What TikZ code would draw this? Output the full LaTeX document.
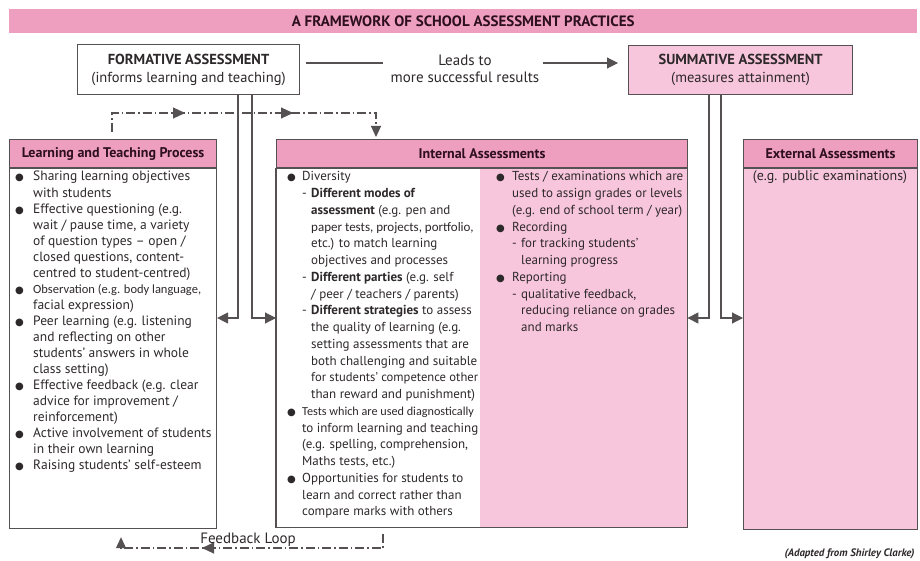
\documentclass[tikz,border=0pt]{standalone}
\usepackage{fontspec}
\setmainfont{PT Sans}
\newfontfamily\narrowfont{Carlito}
\newfontfamily\symfont{DejaVu Sans}
\usetikzlibrary{arrows.meta,decorations.markings}

\definecolor{framepink}{RGB}{238,158,190}
\definecolor{softpink}{RGB}{248,198,220}
\definecolor{edgegray}{RGB}{85,80,82}
\definecolor{inkgray}{RGB}{45,40,42}
\definecolor{headink}{RGB}{45,15,30}

% list bullet
\newcommand{\bul}{{\fontsize{10}{8}\selectfont\symfont ●}}

\begin{document}
\begin{tikzpicture}[x=1pt,y=-1pt,font=\fontsize{13}{16}\selectfont,text=inkgray]

\tikzstyle{box}=[draw=edgegray,line width=1.1pt];
\tikzstyle{wire}=[draw=edgegray,line width=1.1pt];
\tikzstyle{tip}=[-{Triangle[length=11pt,width=11pt]}];
\tikzstyle{loop}=[wire,dash pattern=on 9pt off 3pt on 1.5pt off 3pt];
\tikzstyle{head}=[box,fill=framepink,anchor=north west,minimum height=28pt,inner sep=0pt,
  text=headink,font=\fontsize{14}{15}\selectfont\bfseries];
\tikzstyle{body}=[anchor=north west,inner sep=0pt];
\tikzstyle{list}=[anchor=base west,inner sep=0pt,align=left];

\useasboundingbox (0,0) rectangle (920,561);

% title banner
\node[fill=framepink,anchor=north west,minimum width=908pt,minimum height=24pt,inner sep=0pt,
  text=headink,font=\fontsize{15}{16}\selectfont\bfseries] (title) at (9,9)
  {A FRAMEWORK OF SCHOOL ASSESSMENT PRACTICES};

% top row
\node[box,fill=white,anchor=north west,minimum width=222pt,minimum height=50pt,inner sep=0pt,
  align=center,font=\fontsize{14.5}{18}\selectfont] (formative) at (77,44)
  {\textbf{FORMATIVE ASSESSMENT}\\(informs learning and teaching)};
\node[box,fill=softpink,anchor=north west,minimum width=224pt,minimum height=49pt,inner sep=0pt,
  align=center,font=\fontsize{14.5}{18}\selectfont] (summative) at (628,45)
  {\textbf{SUMMATIVE ASSESSMENT}\\(measures attainment)};
\node[align=center,font=\fontsize{15}{17}\selectfont] (leads) at (465,68.5)
  {Leads to\\more successful results};

\coordinate (leadsy) at (0,63);
\draw[wire,shorten <=6pt,shorten >=4pt] (formative.east |- leadsy) -- (leads.west |- leadsy);
\draw[wire,tip,shorten >=10pt] (leads.east |- leadsy) -- (summative.west |- leadsy);

% three columns
\node[head,minimum width=207pt] (ltphead) at (9,139) {Learning and Teaching Process};
\node[box,body,minimum width=207pt,minimum height=360pt] (ltp) at (ltphead.south west) {};

\node[head,minimum width=411pt] (iahead) at (276,139) {Internal Assessments};
\node[body,minimum width=411pt,minimum height=359pt] (ia) at (iahead.south west) {};
\fill[softpink] ([xshift=204pt]ia.north west) rectangle (ia.south east);
\draw[box] (ia.north west) rectangle (ia.south east);

\node[head,minimum width=174pt] (exthead) at (743,139) {External Assessments};
\node[box,body,fill=softpink,minimum width=174pt,minimum height=361pt] (ext) at (exthead.south west) {};

% double links down from the top row
\draw[wire,tip] (238,0 |- formative.south) |- (ltp.east |- 0,318);
\draw[wire,tip] (252,0 |- formative.south) |- (ia.west |- 0,318);
\draw[wire,tip] (709,0 |- summative.south) |- (ia.east |- 0,318);
\draw[wire,tip] (721,0 |- summative.south) |- (ext.west |- 0,318);

% feedback loops
\coordinate (fbstart) at (112,132);
\coordinate (fbturn) at (376,113);
\draw[loop,-{Triangle[length=11pt,width=10pt]},shorten >=2pt,
  decoration={markings,
    mark=at position 92pt with {\arrow{Triangle[length=12pt,width=11pt]}},
    mark=at position 200pt with {\arrow{Triangle[length=12pt,width=11pt]}}},
  postaction={decorate}] (fbstart) |- (fbturn) -- (iahead.north -| fbturn);

\coordinate (fbfoot) at (383,534);
\coordinate (fbback) at (121,548);
\draw[loop,-{Triangle[length=11pt,width=10pt]},shorten >=8pt,
  decoration={markings,
    mark=at position 195pt with {\arrow{Triangle[length=12pt,width=11pt]}}},
  postaction={decorate}] (fbfoot) |- (fbback) -- (fbback |- ltp.south);
\node[font=\fontsize{15}{16}\selectfont] (fblabel) at (248,540) {Feedback Loop};

% column texts
\node[list,font=\fontsize{13.5}{16.05}\selectfont] (ltptext) at (15,181) {%
\begin{tabular}[t]{@{}p{18pt}@{}l@{}}
\bul & Sharing learning objectives\\
     & with students\\
\bul & Effective questioning (e.g.\\
     & wait / pause time, a variety\\
     & of question types – open /\\
     & closed questions, content-\\
     & centred to student-centred)\\
\bul & {\narrowfont\fontsize{12.5}{16}\selectfont Observation (e.g. body language,}\\
     & facial expression)\\
\bul & Peer learning (e.g. listening\\
     & and reflecting on other\\
     & students' answers in whole\\
     & class setting)\\
\bul & Effective feedback (e.g. clear\\
     & advice for improvement /\\
     & reinforcement)\\
\bul & Active involvement of students\\
     & in their own learning\\
\bul & Raising students' self-esteem
\end{tabular}};

\node[list,font=\fontsize{13}{16.75}\selectfont] (iatext) at (287,181) {%
\begin{tabular}[t]{@{}p{15pt}@{}p{9pt}@{}l@{}}
\bul & \multicolumn{2}{@{}l@{}}{Diversity}\\
     & - & \textbf{Different modes of}\\
     &   & \textbf{assessment} (e.g. pen and\\
     &   & {\narrowfont\fontsize{13}{16}\selectfont paper tests, projects, portfolio,}\\
     &   & etc.) to match learning\\
     &   & objectives and processes\\
     & - & \textbf{Different parties} (e.g. self\\
     &   & / peer / teachers / parents)\\
     & - & \textbf{Different strategies} to assess\\
     &   & the quality of learning (e.g.\\
     &   & setting assessments that are\\
     &   & both challenging and suitable\\
     &   & {\fontsize{12.6}{16}\selectfont for students' competence other}\\
     &   & than reward and punishment)\\
\bul & \multicolumn{2}{@{}l@{}}{\narrowfont\fontsize{12.2}{16}\selectfont Tests which are used diagnostically}\\
     & \multicolumn{2}{@{}l@{}}{to inform learning and teaching}\\
     & \multicolumn{2}{@{}l@{}}{(e.g. spelling, comprehension,}\\
     & \multicolumn{2}{@{}l@{}}{Maths tests, etc.)}\\
\bul & \multicolumn{2}{@{}l@{}}{Opportunities for students to}\\
     & \multicolumn{2}{@{}l@{}}{learn and correct rather than}\\
     & \multicolumn{2}{@{}l@{}}{compare marks with others}
\end{tabular}};

\node[list,font=\fontsize{13}{16.75}\selectfont] (sidetext) at (496,181) {%
\begin{tabular}[t]{@{}p{16pt}@{}p{9pt}@{}l@{}}
\bul & \multicolumn{2}{@{}l@{}}{Tests / examinations which are}\\
     & \multicolumn{2}{@{}l@{}}{used to assign grades or levels}\\
     & \multicolumn{2}{@{}l@{}}{(e.g. end of school term / year)}\\
\bul & \multicolumn{2}{@{}l@{}}{Recording}\\
     & - & for tracking students'\\
     &   & learning progress\\
\bul & \multicolumn{2}{@{}l@{}}{Reporting}\\
     & - & qualitative feedback,\\
     &   & reducing reliance on grades\\
     &   & and marks
\end{tabular}};

\node[anchor=base,font=\fontsize{14}{16}\selectfont] (exttext) at (830,181) {(e.g. public examinations)};

\node[anchor=east,font=\fontsize{10.8}{11}\selectfont\bfseries\itshape] (credit) at (918,554)
  {(Adapted from Shirley Clarke)};
\end{tikzpicture}
\end{document}
